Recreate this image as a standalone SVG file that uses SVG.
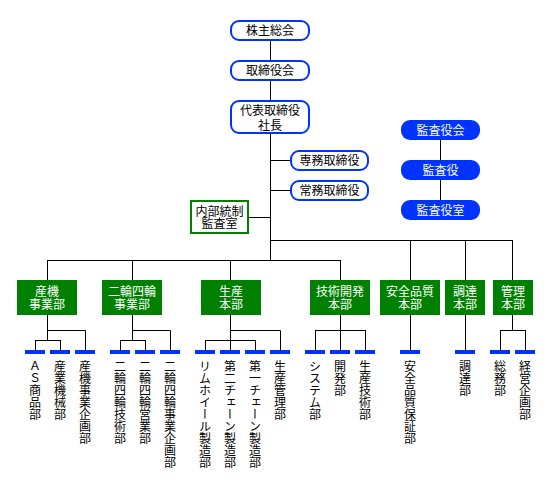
<svg xmlns="http://www.w3.org/2000/svg" width="550" height="490" viewBox="0 0 550 490">
<style>
text{font-family:"Noto Sans CJK JP","Noto Sans",sans-serif;font-size:12px;}
.wn{fill:#fff;stroke:#0033ff;stroke-width:2;}
.an{fill:#0033ff;}
.gn{fill:#008000;}
.gb{fill:#fff;stroke:#008000;stroke-width:2;}
.tb{fill:#000;text-anchor:middle;}
.tw{fill:#fff;text-anchor:middle;}
.bar{fill:#0033ff;}
.vt{fill:#000;writing-mode:vertical-rl;text-anchor:start;}
#connectors path{fill:none;stroke:#000;stroke-width:1;}
</style>
<g id="connectors">
<path d="M270.5 40V61M270.5 80V101M270.5 134V260.5M270 160.5H291M270 190.5H291M249 217.5H270"/>
<path d="M270 240.5H512.5M410.5 240V280M465.5 240V280M512.5 240V280"/>
<path d="M47.5 260.5H340.5M47.5 260V280M132.5 260V280M230.5 260V280M340.5 260V280"/>
<path d="M440.5 140V160M440.5 180V200"/>
<path d="M47.5 315V340M47.5 330.5H85.5V350M35.5 340.5H60.5M35.5 340V350M60.5 340V350"/>
<path d="M132.5 315V340M132.5 330.5H170.5V350M120.5 340.5H145.5M120.5 340V350M145.5 340V350"/>
<path d="M230.5 315V350M230.5 330.5H280.5V350M205.5 340.5H255.5M205.5 340V350M255.5 340V350"/>
<path d="M340.5 315V350M315.5 330.5H365.5M315.5 330V350M365.5 330V350"/>
<path d="M410.5 315V350M465.5 315V350"/>
<path d="M512.5 315V330.5M500.5 330.5H525.5M500.5 330V350M525.5 330V350"/>
</g>
<g id="n-kabunushi"><rect class="wn" x="231" y="21" width="78" height="19" rx="8"/><text class="tb" x="270" y="35">株主総会</text></g>
<g id="n-torishimariyakukai"><rect class="wn" x="231" y="61" width="78" height="19" rx="8"/><text class="tb" x="270" y="75">取締役会</text></g>
<g id="n-shacho"><rect class="wn" x="231" y="101" width="78" height="32" rx="8"/><text class="tb" x="270" y="114.5">代表取締役<tspan x="270" dy="15">社長</tspan></text></g>
<g id="n-senmu"><rect class="wn" x="291" y="151" width="77" height="19" rx="8"/><text class="tb" x="329.5" y="165">専務取締役</text></g>
<g id="n-jomu"><rect class="wn" x="291" y="181" width="77" height="19" rx="8"/><text class="tb" x="329.5" y="195">常務取締役</text></g>
<g id="n-naibu"><rect class="gb" x="191" y="201" width="57" height="32"/><text class="tb" x="219.5" y="215.5">内部統制<tspan x="219.5" dy="12.5">監査室</tspan></text></g>
<g id="n-kansayakukai"><rect class="an" x="401" y="120" width="79" height="20" rx="9"/><text class="tw" x="440.5" y="134.5">監査役会</text></g>
<g id="n-kansayaku"><rect class="an" x="401" y="160" width="79" height="20" rx="9"/><text class="tw" x="440.5" y="174.5">監査役</text></g>
<g id="n-kansayakushitsu"><rect class="an" x="401" y="200" width="79" height="20" rx="9"/><text class="tw" x="440.5" y="214.5">監査役室</text></g>
<g id="n-sanki"><rect class="gn" x="17" y="280" width="60" height="35"/><text class="tw" x="47" y="295.5">産機<tspan x="47" dy="13">事業部</tspan></text></g>
<g id="n-nirin"><rect class="gn" x="102" y="280" width="60" height="35"/><text class="tw" x="132" y="295.5">二輪四輪<tspan x="132" dy="13">事業部</tspan></text></g>
<g id="n-seisan"><rect class="gn" x="201" y="280" width="60" height="35"/><text class="tw" x="231" y="295.5">生産<tspan x="231" dy="13">本部</tspan></text></g>
<g id="n-gijutsu"><rect class="gn" x="310" y="280" width="60" height="35"/><text class="tw" x="340" y="295.5">技術開発<tspan x="340" dy="13">本部</tspan></text></g>
<g id="n-anzen"><rect class="gn" x="380" y="280" width="60" height="35"/><text class="tw" x="410" y="295.5">安全品質<tspan x="410" dy="13">本部</tspan></text></g>
<g id="n-chotatsu"><rect class="gn" x="445" y="280" width="40" height="35"/><text class="tw" x="465" y="295.5">調達<tspan x="465" dy="13">本部</tspan></text></g>
<g id="n-kanri"><rect class="gn" x="493" y="280" width="40" height="35"/><text class="tw" x="513" y="295.5">管理<tspan x="513" dy="13">本部</tspan></text></g>
<g id="n-as"><rect class="bar" x="25" y="350" width="20" height="4"/><text class="vt" x="35" y="360">ＡＳ商品部</text></g>
<g id="n-sangyokikai"><rect class="bar" x="50" y="350" width="20" height="4"/><text class="vt" x="60" y="360">産業機械部</text></g>
<g id="n-sankikikaku"><rect class="bar" x="75" y="350" width="20" height="4"/><text class="vt" x="85" y="360">産機事業企画部</text></g>
<g id="n-nirin-gijutsu"><rect class="bar" x="110" y="350" width="20" height="4"/><text class="vt" x="120" y="360">二輪四輪技術部</text></g>
<g id="n-nirin-eigyo"><rect class="bar" x="135" y="350" width="20" height="4"/><text class="vt" x="145" y="360">二輪四輪営業部</text></g>
<g id="n-nirin-kikaku"><rect class="bar" x="160" y="350" width="20" height="4"/><text class="vt" x="170" y="360">二輪四輪事業企画部</text></g>
<g id="n-rim"><rect class="bar" x="195" y="350" width="20" height="4"/><text class="vt" x="205" y="360">リムホイール製造部</text></g>
<g id="n-chain2"><rect class="bar" x="220" y="350" width="20" height="4"/><text class="vt" x="230" y="360">第二チェーン製造部</text></g>
<g id="n-chain1"><rect class="bar" x="245" y="350" width="20" height="4"/><text class="vt" x="255" y="360">第一チェーン製造部</text></g>
<g id="n-seisankanri"><rect class="bar" x="270" y="350" width="20" height="4"/><text class="vt" x="280" y="360">生産管理部</text></g>
<g id="n-system"><rect class="bar" x="305" y="350" width="20" height="4"/><text class="vt" x="315" y="360">システム部</text></g>
<g id="n-kaihatsu"><rect class="bar" x="330" y="350" width="20" height="4"/><text class="vt" x="340" y="360">開発部</text></g>
<g id="n-seisangijutsu"><rect class="bar" x="355" y="350" width="20" height="4"/><text class="vt" x="365" y="360">生産技術部</text></g>
<g id="n-hinshitsu"><rect class="bar" x="400" y="350" width="20" height="4"/><text class="vt" x="410" y="360">安全品質保証部</text></g>
<g id="n-chotatsubu"><rect class="bar" x="455" y="350" width="20" height="4"/><text class="vt" x="465" y="360">調達部</text></g>
<g id="n-somu"><rect class="bar" x="490" y="350" width="20" height="4"/><text class="vt" x="500" y="360">総務部</text></g>
<g id="n-keiei"><rect class="bar" x="515" y="350" width="20" height="4"/><text class="vt" x="525" y="360">経営企画部</text></g>
</svg>
